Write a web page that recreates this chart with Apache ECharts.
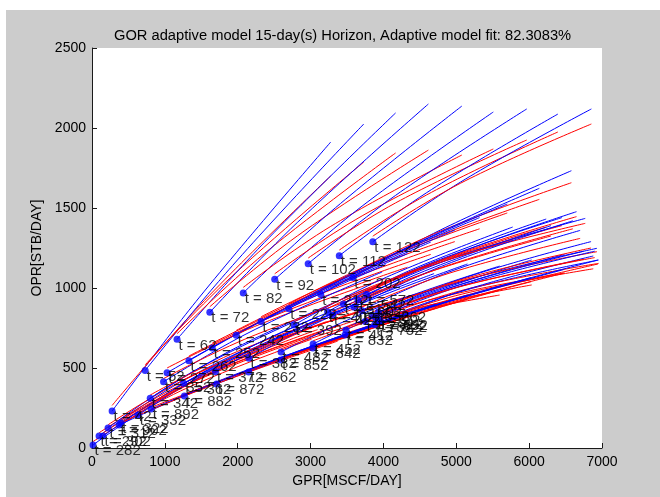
<!DOCTYPE html>
<html>
<head>
<meta charset="utf-8">
<title>GOR adaptive model</title>
<script src="https://cdn.jsdelivr.net/npm/echarts@6.0.0/dist/echarts.min.js"></script>
<style>
  html, body { margin: 0; padding: 0; background: #ffffff; }
  #bg { position: absolute; left: 6px; top: 10px; right: 0; bottom: 0; background: #cccccc; }
  #main { position: absolute; left: 0; top: 0; width: 660px; height: 497px; }
</style>
</head>
<body>
<div id="bg"></div>
<div id="main"></div>
<script>
// forecast start points (one every 10 days)
const dotTimes = [42, 52, 62, 72, 82, 92, 102, 112, 122,
  202, 212, 222, 232, 242, 252, 262, 272,
  282, 292, 302, 312, 322, 332, 342, 352, 362, 372, 382, 392, 402, 412,
  422, 452, 482, 512, 542, 572, 602, 632, 662, 692, 722, 752, 782, 812,
  822, 832, 842, 852, 862, 872, 882, 892, 902];
const dotGpr = [276, 730, 1167, 1617, 2076, 2508, 2967, 3394, 3854,
  3580, 3140, 2700, 2320, 1980, 1650, 1330, 1030,
  14, 97, 152, 220, 396, 634, 799, 982, 1258, 1695, 2154, 2774, 3234, 3486,
  3300, 3035, 2595, 3450, 3650, 3770, 3600, 3700, 3931, 3954, 3850, 3880, 3750, 3900,
  3945, 3472, 3031, 2590, 2150, 1709, 1268, 813, 372];
const dotOpr = [231, 485, 679, 848, 969, 1054, 1152, 1202, 1289,
  1065, 960, 870, 790, 705, 625, 545, 470,
  19, 75, 75, 125, 156, 206, 311, 414, 404, 477, 561, 769, 852, 738,
  830, 650, 600, 900, 925, 960, 880, 860, 850, 800, 830, 770, 790, 810,
  789, 706, 625, 550, 475, 400, 325, 244, 144];

// blue curves start at the dot
const blueMid = [
  [1476, 943], [1930, 1141], [2367, 1285], [2817, 1409], [3276, 1476], [3708, 1512], [4167, 1579], [4594, 1596], [5054, 1661],
  [4780, 1362], [4340, 1255], [3900, 1162], [3520, 1080], [3180, 998], [2850, 920], [2530, 843], [2230, 770],
  [1214, 375], [1297, 433], [1352, 425], [1420, 487], [1596, 488], [1834, 534], [1999, 632], [2182, 728], [2458, 694], [2895, 762], [3354, 837], [3974, 1054], [4434, 1124], [4686, 967],
  [4500, 1094], [4235, 900], [3795, 855], [4650, 1156], [4850, 1186], [4970, 1190], [4800, 1136], [4900, 1100], [5131, 1049], [5154, 990], [5050, 1054], [5080, 982], [4950, 1006], [5100, 1018],
  [5145, 955], [4672, 885], [4231, 825], [3790, 755], [3350, 680], [2909, 610], [2468, 545], [2013, 468], [1572, 385]
];
const blueEnd = [
  [3276, 1912], [3730, 2025], [4167, 2094], [4617, 2150], [5076, 2137], [5508, 2100], [5967, 2119], [6394, 2087], [6854, 2119],
  [6580, 1733], [6140, 1623], [5700, 1525], [5320, 1440], [4980, 1362], [4650, 1287], [4330, 1214], [4030, 1146],
  [3014, 760], [3097, 820], [3152, 800], [3220, 880], [3396, 860], [3634, 900], [3799, 1000], [3982, 1100], [4258, 1030], [4695, 1090], [5154, 1150], [5774, 1381], [6234, 1431], [6486, 1210],
  [6300, 1390], [6035, 1175], [5595, 1137], [6450, 1440], [6650, 1477], [6770, 1435], [6600, 1420], [6700, 1360], [6931, 1248], [6954, 1175], [6850, 1290], [6880, 1200], [6750, 1230], [6900, 1230],
  [6945, 1175], [6472, 1115], [6031, 1065], [5590, 1010], [5150, 955], [4709, 898], [4268, 835], [3813, 765], [3372, 692]
];

// red curves start just above the dot
const redStart = [
  [276, 266], [730, 520], [1167, 714], [1617, 883], [2076, 1004], [2508, 1089], [2967, 1187], [3394, 1237], [3854, 1324],
  [3580, 1095], [3140, 990], [2700, 900], [2320, 820], [1980, 735], [1650, 655], [1330, 575], [1030, 500],
  [14, 40], [97, 95], [152, 95], [220, 145], [396, 176], [634, 226], [799, 331], [982, 434], [1258, 424], [1695, 497], [2154, 581], [2774, 789], [3234, 872], [3486, 758],
  [3300, 850], [3035, 670], [2595, 620], [3450, 920], [3650, 945], [3770, 980], [3600, 900], [3700, 880], [3931, 870], [3954, 820], [3850, 850], [3880, 790], [3750, 810], [3900, 830],
  [3945, 800], [3472, 716], [3031, 635], [2590, 560], [2150, 485], [1709, 410], [1268, 335], [813, 254], [372, 154]
];
const redMid = [
  [1476, 890], [1930, 1077], [2367, 1216], [2817, 1325], [3276, 1385], [3708, 1451], [4167, 1532], [4594, 1582], [5054, 1654],
  [4780, 1355], [4340, 1251], [3900, 1163], [3520, 1075], [3180, 992], [2850, 912], [2530, 832], [2230, 759],
  [1214, 356], [1297, 413], [1352, 405], [1420, 463], [1596, 464], [1834, 506], [1999, 604], [2182, 696], [2458, 666], [2895, 734], [3354, 809], [3974, 1033], [4434, 1115], [4686, 932],
  [4500, 1080], [4235, 850], [3795, 794], [4650, 1148], [4850, 1185], [4970, 1190], [4800, 1128], [4900, 1092], [5131, 1053], [5154, 994], [5050, 1050], [5080, 962], [4950, 998], [5100, 1014],
  [5145, 955], [4672, 880], [4231, 815], [3790, 748], [3350, 678], [2909, 608], [2468, 538], [2013, 462], [1572, 378]
];
const redEnd = [
  [3276, 1700], [3730, 1787], [4167, 1844], [4617, 1862], [5076, 1831], [5508, 1869], [5967, 1925], [6394, 1975], [6854, 2025],
  [6580, 1658], [6140, 1554], [5700, 1469], [5320, 1370], [4980, 1290], [4650, 1210], [4330, 1130], [4030, 1060],
  [3014, 680], [3097, 740], [3152, 720], [3220, 790], [3396, 770], [3634, 800], [3799, 900], [3982, 990], [4258, 930], [4695, 990], [5154, 1050], [5774, 1300], [6234, 1380], [6486, 1094],
  [6300, 1325], [6035, 1019], [5595, 956], [6450, 1390], [6650, 1446], [6770, 1404], [6600, 1370], [6700, 1310], [6931, 1227], [6954, 1154], [6850, 1250], [6880, 1120], [6750, 1180], [6900, 1190],
  [6945, 1150], [6472, 1092], [6031, 1040], [5590, 985], [5150, 930], [4709, 872], [4268, 810], [3813, 740], [3372, 668]
];

const FONT = "'Liberation Sans', Arial, sans-serif";

var myChart = echarts.init(document.getElementById("main"), null, { renderer: "canvas" });

var series = [];
dotTimes.forEach(function (t, i) {
  series.push({
    type: "line",
    data: [[dotGpr[i], dotOpr[i]], blueMid[i], blueEnd[i]],
    smooth: 0.4,
    showSymbol: false,
    silent: true,
    lineStyle: { color: "#0000ff", width: 1 },
    z: 2
  });
  series.push({
    type: "line",
    data: [redStart[i], redMid[i], redEnd[i]],
    smooth: 0.4,
    showSymbol: false,
    silent: true,
    lineStyle: { color: "#ff0000", width: 1 },
    z: 2
  });
});

// the dots and their "t = N" texts
series.push({
  type: "scatter",
  data: dotTimes.map(function (t, i) { return [dotGpr[i], dotOpr[i], t]; }),
  symbolSize: 7,
  itemStyle: { color: "#0000ff" },
  silent: true,
  z: 5,
  label: {
    show: true,
    position: "right",
    distance: -2,
    offset: [0, 6],
    color: "#000",
    fontSize: 15,
    fontFamily: FONT,
    formatter: function (p) { return "t = " + p.value[2]; }
  }
});

myChart.setOption({
  animation: false,
  backgroundColor: "transparent",
  title: {
    text: "GOR adaptive model 15-day(s) Horizon, Adaptive model fit: 82.3083%",
    left: 109,
    top: 23,
    textStyle: { fontSize: 14.7, fontWeight: "normal", color: "#000", fontFamily: FONT }
  },
  grid: {
    left: 92, top: 48, width: 510, height: 400,
    show: true, backgroundColor: "#ffffff", borderWidth: 0
  },
  xAxis: {
    type: "value",
    min: 0, max: 7000, interval: 1000,
    name: "GPR[MSCF/DAY]",
    nameLocation: "middle",
    nameGap: 25,
    nameTextStyle: { fontSize: 14, color: "#000", fontFamily: FONT },
    axisLine: { show: true, lineStyle: { color: "#1a1a1a", width: 1 } },
    axisTick: { show: true, inside: true, length: 5, lineStyle: { color: "#1a1a1a" } },
    axisLabel: { color: "#000", fontSize: 14, margin: 7, fontFamily: FONT, formatter: function (v) { return String(v); } },
    splitLine: { show: false }
  },
  yAxis: {
    type: "value",
    min: 0, max: 2500, interval: 500,
    name: "OPR[STB/DAY]",
    nameLocation: "middle",
    nameGap: 42,
    nameRotate: 90,
    nameTextStyle: { fontSize: 14, color: "#000", fontFamily: FONT },
    axisLine: { show: true, lineStyle: { color: "#1a1a1a", width: 1 } },
    axisTick: { show: true, inside: true, length: 5, lineStyle: { color: "#1a1a1a" } },
    axisLabel: { color: "#000", fontSize: 14, margin: 6, fontFamily: FONT, formatter: function (v) { return String(v); } },
    splitLine: { show: false }
  },
  series: series
});
</script>
</body>
</html>
